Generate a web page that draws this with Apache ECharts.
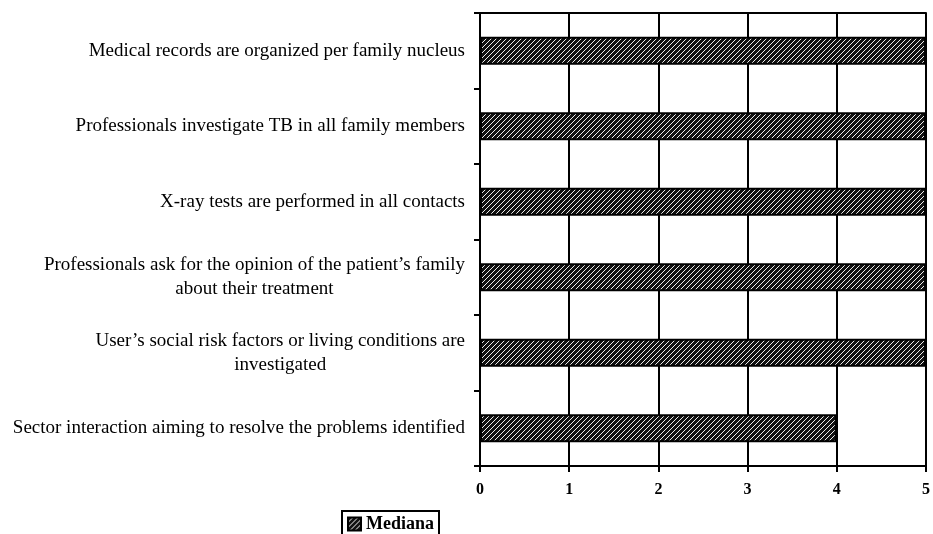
<!DOCTYPE html>
<html><head><meta charset="utf-8">
<script src="https://cdn.jsdelivr.net/npm/echarts@6/dist/echarts.min.js"></script>
<style>html,body{margin:0;padding:0;background:#fff}#c{width:933px;height:534px}</style>
</head><body><div id="c"></div>
<script>
const categories = [
  "Sector interaction aiming to resolve the problems identified",
  "User\u2019s social risk factors or living conditions are\ninvestigated",
  "Professionals ask for the opinion of the patient\u2019s family\nabout their treatment",
  "X-ray tests are performed in all contacts",
  "Professionals investigate TB in all family members",
  "Medical records are organized per family nucleus"
];
const medianValues = [4, 5, 5, 5, 5, 5];
const seriesName = "Mediana";
const xTicks = [0, 1, 2, 3, 4, 5];

function makeHatch() {
  const c = document.createElement('canvas');
  c.width = 5; c.height = 5;
  const g = c.getContext('2d');
  g.fillStyle = '#111';
  g.fillRect(0, 0, 5, 5);
  g.strokeStyle = '#eee';
  g.lineWidth = 1;
  g.beginPath();
  g.moveTo(0, 5); g.lineTo(5, 0);
  g.moveTo(-2.5, 2.5); g.lineTo(2.5, -2.5);
  g.moveTo(2.5, 7.5); g.lineTo(7.5, 2.5);
  g.stroke();
  return c;
}
const hatch = makeHatch();

const chart = echarts.init(document.getElementById('c'), null, {renderer: 'canvas'});
const font = '"Liberation Serif", "Times New Roman", serif';
chart.setOption({
  animation: false,
  backgroundColor: '#fff',
  textStyle: {fontFamily: font},
  grid: {left: 480, right: 3, top: 13, bottom: 68, containLabel: false},
  legend: {
    data: [{name: seriesName, icon: 'rect'}],
    left: 342, top: 511,
    itemWidth: 13, itemHeight: 13, itemGap: 3,
    padding: [4, 5, 4, 5],
    borderColor: '#000', borderWidth: 2,
    textStyle: {fontFamily: font, fontWeight: 'bold', fontSize: 18, color: '#000'}
  },
  xAxis: [{
    type: 'value', min: xTicks[0], max: xTicks[xTicks.length - 1], interval: 1,
    axisLine: {show: true, onZero: false, lineStyle: {color: '#000', width: 2}},
    axisTick: {show: true, length: 6, lineStyle: {color: '#000', width: 2}},
    splitLine: {show: true, lineStyle: {color: '#000', width: 2}},
    axisLabel: {fontFamily: font, fontWeight: 'bold', fontSize: 16, color: '#000', margin: 16}
  }, {
    type: 'value', position: 'top', min: 0, max: 5, interval: 1,
    axisLine: {show: true, lineStyle: {color: '#000', width: 2}},
    axisTick: {show: false}, axisLabel: {show: false}, splitLine: {show: false}
  }],
  yAxis: {
    type: 'category', data: categories,
    axisLine: {show: true, lineStyle: {color: '#000', width: 2}},
    axisTick: {show: true, length: 6, lineStyle: {color: '#000', width: 2}},
    axisLabel: {
      fontFamily: font, fontSize: 19, color: '#000', margin: 15, align: 'right', lineHeight: 24,
      formatter: function (v) { return v.split('\n').map(function (s) { return '{c|' + s + '}'; }).join('\n'); },
      rich: {c: {align: 'center', fontFamily: font, fontSize: 19, color: '#000', lineHeight: 24}}
    },
    splitLine: {show: false}
  },
  series: [{
    name: seriesName, type: 'bar', data: medianValues, xAxisIndex: 0,
    barWidth: 28,
    itemStyle: {color: {image: hatch, repeat: 'repeat'}, borderColor: '#000', borderWidth: 2}
  }]
});
</script></body></html>
